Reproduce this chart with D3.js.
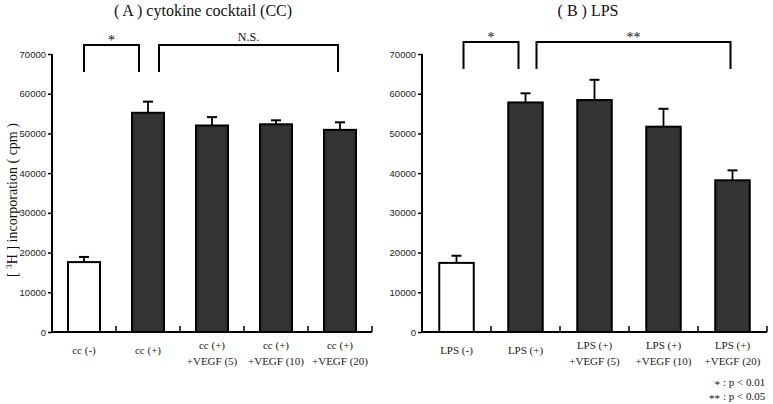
<!DOCTYPE html>
<html>
<head>
<meta charset="utf-8">
<script src="https://cdn.jsdelivr.net/npm/d3@7"></script>
<style>
  html, body { margin: 0; padding: 0; background: #fff; }
  svg { display: block; }
</style>
</head>
<body>
<svg id="chart" width="773" height="404"></svg>
<script>
// ---------------- DATA ----------------
const categoriesA = [["cc (-)"], ["cc (+)"], ["cc (+)", "+VEGF (5)"], ["cc (+)", "+VEGF (10)"], ["cc (+)", "+VEGF (20)"]];
const valuesA = [17600, 55200, 52000, 52300, 50900];
const errorsA = [1300, 2800, 2100, 1000, 1900];

const categoriesB = [["LPS (-)"], ["LPS (+)"], ["LPS (+)", "+VEGF (5)"], ["LPS (+)", "+VEGF (10)"], ["LPS (+)", "+VEGF (20)"]];
const valuesB = [17400, 57800, 58400, 51700, 38200];
const errorsB = [1800, 2300, 5100, 4500, 2500];

const yTicks = [0, 10000, 20000, 30000, 40000, 50000, 60000, 70000];
const bracketsA = [{ from: 0, to: 1, label: "*" }, { from: 1, to: 4, label: "N.S." }];
const bracketsB = [{ from: 0, to: 1, label: "*" }, { from: 1, to: 4, label: "**" }];
const titles = ["( A ) cytokine cocktail (CC)", "( B ) LPS"];
const footnotes = [["*", ":  p < 0.01"], ["**", ":  p < 0.05"]];

// ---------------- DRAW ----------------
const svg = d3.select("#chart");
const serif = "'Liberation Serif', 'Times New Roman', Times, serif";
const sans = "'Liberation Sans', Arial, Helvetica, sans-serif";

function panel(cfg) {
  const { cats, vals, errs, brackets, title, x0, x1, titleX } = cfg;
  const yTop = 54, yBot = 332;
  const y = d3.scaleLinear().domain([0, 70000]).range([yBot, yTop]);
  const ids = cats.map((c, i) => i);
  const x = d3.scaleBand().domain(ids).range([x0, x1]).paddingInner(0.5).paddingOuter(0.25);
  const g = svg.append("g");
  const step = x.step(), bw = x.bandwidth();
  const center = i => x(i) + bw / 2;

  // title
  g.append("text").attr("x", titleX).attr("y", 16).attr("text-anchor", "middle")
    .attr("font-family", serif).attr("font-size", 16).attr("fill", "#111").text(title);

  // y axis
  const yAxis = d3.axisLeft(y).tickValues(yTicks).tickSize(4).tickPadding(2).tickFormat(d3.format("d"));
  const ya = g.append("g").attr("transform", `translate(${x0},0)`).call(yAxis);
  ya.select(".domain").attr("stroke", "#000").attr("stroke-width", 2).attr("d", `M0,${yTop}H0V${yBot}`);
  ya.selectAll(".tick line").attr("stroke", "#000").attr("stroke-width", 1.5);
  ya.selectAll(".tick text").attr("font-family", sans).attr("font-size", 9.5).attr("fill", "#222");

  // x axis with boundary ticks (upward)
  const bounds = ids.map(i => x(i) + bw + (step - bw) / 2);
  const xa = g.append("g");
  xa.append("line").attr("x1", x0).attr("x2", x1).attr("y1", yBot).attr("y2", yBot)
    .attr("stroke", "#000").attr("stroke-width", 2);
  xa.selectAll("line.bt").data(bounds).join("line").attr("class", "bt")
    .attr("x1", d => d).attr("x2", d => d).attr("y1", yBot).attr("y2", yBot - 6)
    .attr("stroke", "#000").attr("stroke-width", 1.5);

  // category labels
  const lab = g.selectAll("text.cat").data(cats).join("text").attr("class", "cat")
    .attr("text-anchor", "middle").attr("font-family", serif).attr("font-size", 11).attr("fill", "#222");
  lab.each(function (lines, i) {
    const t = d3.select(this);
    const cx = center(i);
    if (lines.length === 1) {
      t.append("tspan").attr("x", cx).attr("y", 354).text(lines[0]);
    } else {
      t.append("tspan").attr("x", cx).attr("y", 349).text(lines[0]);
      t.append("tspan").attr("x", cx).attr("y", 365).text(lines[1]);
    }
  });

  // bars
  g.selectAll("rect.bar").data(vals).join("rect").attr("class", "bar")
    .attr("x", (d, i) => x(i)).attr("width", bw)
    .attr("y", d => y(d)).attr("height", d => yBot - y(d))
    .attr("fill", (d, i) => i === 0 ? "#fff" : "#333")
    .attr("stroke", "#000").attr("stroke-width", 2);

  // error bars
  const eb = g.selectAll("g.err").data(vals).join("g").attr("class", "err");
  eb.append("line").attr("x1", (d, i) => center(i)).attr("x2", (d, i) => center(i))
    .attr("y1", d => y(d)).attr("y2", (d, i) => y(d + errs[i]))
    .attr("stroke", "#000").attr("stroke-width", 1.8);
  eb.append("line").attr("x1", (d, i) => center(i) - 5).attr("x2", (d, i) => center(i) + 5)
    .attr("y1", (d, i) => y(d + errs[i])).attr("y2", (d, i) => y(d + errs[i]))
    .attr("stroke", "#000").attr("stroke-width", 2);

  // significance brackets
  brackets.forEach((b, k) => {
    const lx = center(b.from) + cfg.bOff[k][0];
    const rx = center(b.to) + cfg.bOff[k][1];
    const top = cfg.bTop, bottom = cfg.bTop + 27;
    g.append("path").attr("d", `M${lx},${bottom}V${top}H${rx}V${bottom}`)
      .attr("fill", "none").attr("stroke", "#000").attr("stroke-width", 2);
    g.append("text").attr("x", (lx + rx) / 2).attr("y", top - (b.label === "N.S." ? 4 : 0))
      .attr("text-anchor", "middle").attr("font-family", serif)
      .attr("font-size", b.label === "N.S." ? 12 : 14).attr("fill", "#111").text(b.label);
  });
}

panel({ cats: categoriesA, vals: valuesA, errs: errorsA, brackets: bracketsA, title: titles[0],
  x0: 52, x1: 372, titleX: 203, bTop: 45, bOff: [[0, -9], [11, -2]] });
panel({ cats: categoriesB, vals: valuesB, errs: errorsB, brackets: bracketsB, title: titles[1],
  x0: 422, x1: 767, titleX: 588, bTop: 42, bOff: [[7, -7], [11, -2]] });

// y-axis title
const yl = svg.append("text").attr("transform", "translate(17,200) rotate(-90)")
  .attr("text-anchor", "middle").attr("font-family", serif).attr("font-size", 14).attr("fill", "#111");
yl.append("tspan").text("[ ");
yl.append("tspan").attr("font-size", 9).attr("dy", -5).text("3");
yl.append("tspan").attr("dy", 5).text("H ] incorporation ( cpm )");

// footnotes
const fn = svg.append("g").attr("font-family", serif).attr("font-size", 11).attr("fill", "#111");
footnotes.forEach((f, i) => {
  fn.append("text").attr("x", 720).attr("y", 388 + i * 14).attr("text-anchor", "end").text(f[0]);
  fn.append("text").attr("x", 723).attr("y", 386 + i * 14).text(f[1]);
});
</script>
</body>
</html>
